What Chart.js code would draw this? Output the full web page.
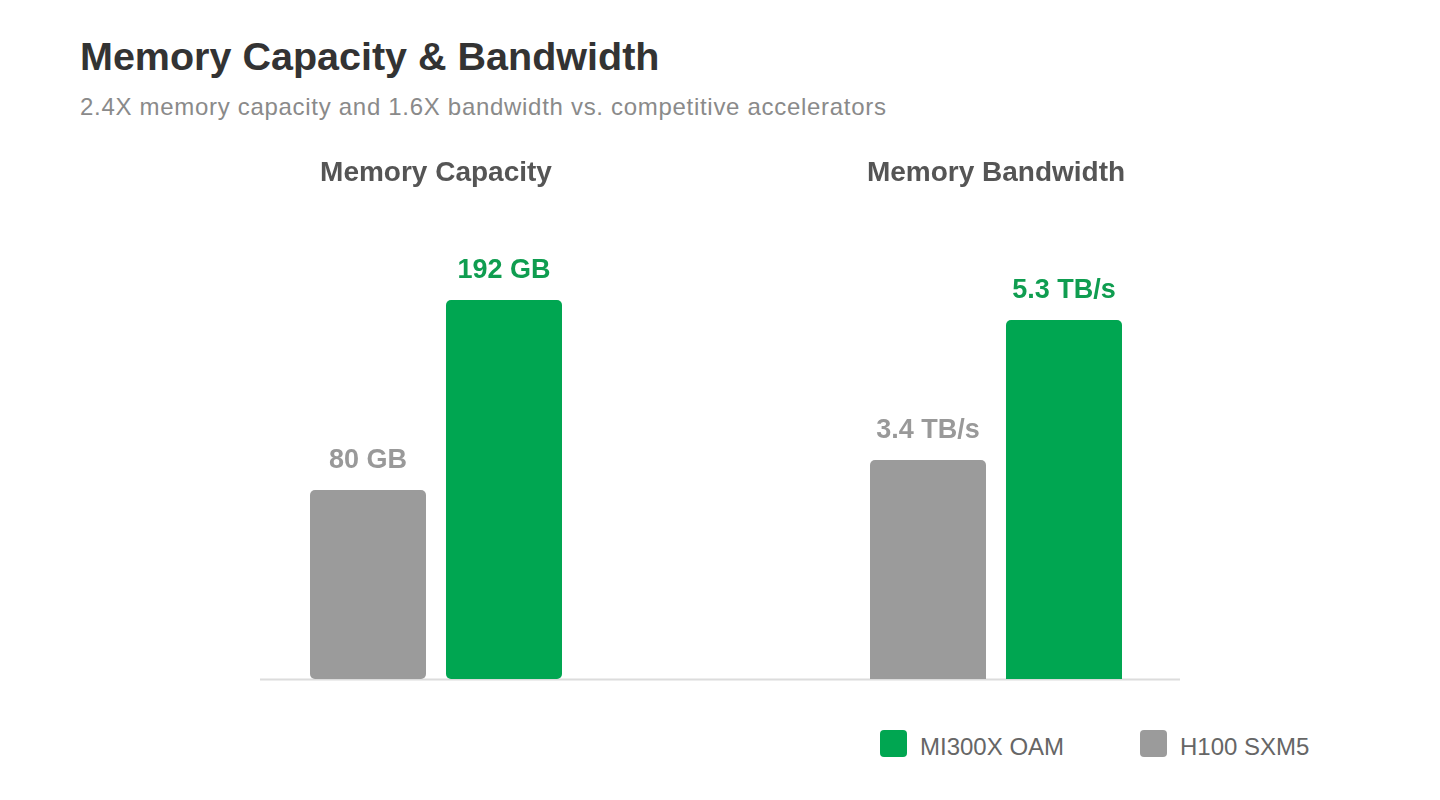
<!DOCTYPE html>
<html>
<head>
<meta charset="utf-8">
<script src="https://cdn.jsdelivr.net/npm/chart.js@4.4.0/dist/chart.umd.min.js"></script>
<style>
  html, body { margin: 0; padding: 0; background: #fff; }
  body { width: 1440px; height: 800px; position: relative; overflow: hidden; font-family: "Liberation Sans", Arial, sans-serif; }
  #title { position: absolute; left: 80px; top: 33px; font-size: 39.5px; font-weight: bold; color: #333; white-space: nowrap; line-height: 46px; }
  #subtitle { position: absolute; left: 80px; top: 93px; font-size: 24px; letter-spacing: 0.7px; color: #8a8a8a; white-space: nowrap; line-height: 28px; }
  .wrap { position: absolute; top: 140px; width: 460px; height: 560px; }
  #w1 { left: 260px; }
  #w2 { left: 720px; }
  #legend { position: absolute; top: 730px; left: 880px; font-size: 24px; color: #666; }
  .item { position: absolute; top: 0; white-space: nowrap; height: 27px; }
  .sw { position: absolute; left: 0; top: 0; width: 27px; height: 27px; border-radius: 4px; }
  .lbl { position: absolute; left: 40px; top: 3px; line-height: 27px; }
</style>
</head>
<body>
<div id="title">Memory Capacity &amp; Bandwidth</div>
<div id="subtitle">2.4X memory capacity and 1.6X bandwidth vs. competitive accelerators</div>
<div class="wrap" id="w1"><canvas id="c1"></canvas></div>
<div class="wrap" id="w2"><canvas id="c2"></canvas></div>
<div id="legend"></div>
<script>
// ---- data ----
const seriesNames = ["H100 SXM5", "MI300X OAM"];
const seriesColors = ["#9b9b9b", "#00a651"];
const labelColors = ["#999999", "#0f9d50"];
const capacityCategory = ["Memory Capacity"];
const capacityValues = [80, 192];      // GB: H100, MI300X
const capacityUnit = "GB";
const bandwidthCategory = ["Memory Bandwidth"];
const bandwidthValues = [3.4, 5.3];    // TB/s: H100, MI300X
const bandwidthUnit = "TB/s";
const legendOrder = [1, 0];

// ---- plugins ----
const baselinePlugin = {
  id: 'baseline',
  beforeDatasetsDraw(chart) {
    const ctx = chart.ctx;
    const y = chart.chartArea.bottom + 0.5;
    ctx.save();
    ctx.strokeStyle = '#dcdcdc';
    ctx.lineWidth = 2;
    ctx.beginPath();
    ctx.moveTo(0, y);
    ctx.lineTo(chart.width, y);
    ctx.stroke();
    ctx.restore();
  }
};
const valueLabelPlugin = {
  id: 'valueLabels',
  afterDatasetsDraw(chart, args, opts) {
    const ctx = chart.ctx;
    ctx.save();
    ctx.font = 'bold 27px "Liberation Sans", Arial, sans-serif';
    ctx.textAlign = 'center';
    ctx.textBaseline = 'alphabetic';
    chart.data.datasets.forEach((ds, di) => {
      const meta = chart.getDatasetMeta(di);
      meta.data.forEach((el, i) => {
        ctx.fillStyle = labelColors[di];
        ctx.fillText(ds.data[i] + ' ' + opts.unit, el.x, el.y - 22);
      });
    });
    ctx.restore();
  }
};

function makeChart(id, category, values, unit, yMin, yMax, padding) {
  const datasets = seriesNames.map((name, i) => ({
    label: name,
    data: [values[i]],
    backgroundColor: seriesColors[i],
    borderRadius: 5,
    borderSkipped: false,
    base: yMin < 0 ? yMin : undefined,
    categoryPercentage: 0.7727,
    barPercentage: 0.853
  }));
  return new Chart(document.getElementById(id), {
    type: 'bar',
    data: { labels: category, datasets },
    options: {
      responsive: true,
      maintainAspectRatio: false,
      animation: false,
      layout: { padding: padding },
      plugins: {
        legend: { display: false },
        tooltip: { enabled: false },
        title: {
          display: true,
          text: category[0],
          color: '#555',
          font: { family: '"Liberation Sans", Arial, sans-serif', size: 28, weight: 'bold' },
          padding: { top: 16, bottom: 50 }
        },
        valueLabels: { unit: unit }
      },
      scales: {
        x: { display: false },
        y: { display: false, min: yMin, max: yMax }
      }
    },
    plugins: [baselinePlugin, valueLabelPlugin]
  });
}

makeChart('c1', capacityCategory, capacityValues, capacityUnit, -31.4, 227.6, { left: 0, right: 108, top: 0, bottom: 21 });
makeChart('c2', bandwidthCategory, bandwidthValues, bandwidthUnit, 0.428, 6.391, { left: 100, right: 8, top: 0, bottom: 21 });

// ---- legend ----
const legend = document.getElementById('legend');
legendOrder.forEach((si, k) => {
  const item = document.createElement('div');
  item.className = 'item';
  item.style.left = (k * 260) + 'px';
  const sw = document.createElement('div');
  sw.className = 'sw';
  sw.style.background = seriesColors[si];
  const lb = document.createElement('div');
  lb.className = 'lbl';
  lb.textContent = seriesNames[si];
  item.appendChild(sw); item.appendChild(lb);
  legend.appendChild(item);
});
</script>
</body>
</html>
